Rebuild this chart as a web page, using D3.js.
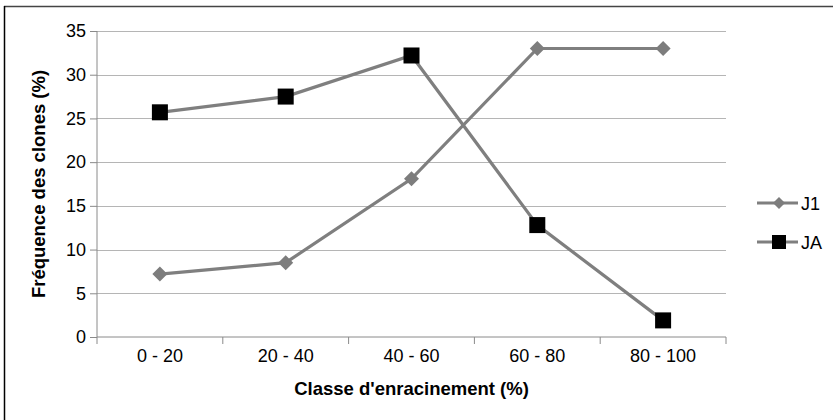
<!DOCTYPE html>
<html>
<head>
    <meta charset="utf-8">
    <title>Fréquence des clones</title>
    <script src="https://d3js.org/d3.v7.min.js"></script>
    <style>
        body { margin: 0; background: #fff; }
        svg { display: block; font-family: "Liberation Sans", Arial, sans-serif; }
        .tick text { font-size: 18px; fill: #000; }
        .axis-title { font-size: 18.5px; font-weight: bold; fill: #000; }
    </style>
</head>
<body>
    <svg width="833" height="420" id="chart"></svg>
    <script>
        // Data
        const categories = ["0 - 20", "20 - 40", "40 - 60", "60 - 80", "80 - 100"];
        const j1Values = [7.2, 8.5, 18.1, 33.0, 33.0];
        const jaValues = [25.7, 27.5, 32.2, 12.8, 1.9];
        const yTicks = [0, 5, 10, 15, 20, 25, 30, 35];

        const series = [
            { name: "J1", values: j1Values, marker: "diamond" },
            { name: "JA", values: jaValues, marker: "square" }
        ];

        const svg = d3.select("#chart");
        const margin = { left: 97, right: 726, top: 31, bottom: 337 };

        // frame lines (top and left only, as in the picture)
        svg.append("line").attr("x1", 4).attr("x2", 833).attr("y1", 6.5).attr("y2", 6.5)
            .attr("stroke", "#444").attr("stroke-width", 1.5);
        svg.append("line").attr("x1", 4.5).attr("x2", 4.5).attr("y1", 6).attr("y2", 420)
            .attr("stroke", "#000").attr("stroke-width", 1.5);

        const x = d3.scaleBand().domain(categories).range([margin.left, margin.right]);
        const y = d3.scaleLinear().domain([0, 35]).range([margin.bottom, margin.top]);

        // gridlines
        svg.append("g").selectAll("line")
            .data(yTicks.filter(d => d > 0))
            .enter().append("line")
            .attr("x1", margin.left).attr("x2", margin.right)
            .attr("y1", d => Math.round(y(d)) + 0.5).attr("y2", d => Math.round(y(d)) + 0.5)
            .attr("stroke", "#b5b5b5").attr("stroke-width", 1.2);

        // y axis
        const yAxis = svg.append("g")
            .attr("transform", `translate(${margin.left},0)`)
            .call(d3.axisLeft(y).tickValues(yTicks).tickSize(7).tickPadding(4));
        yAxis.selectAll("path, line").attr("stroke", "#8a8a8a");
        yAxis.select(".domain").attr("d", `M0,${margin.bottom}V${margin.top}`);

        // x axis with ticks on band edges
        const xAxis = svg.append("g")
            .attr("transform", `translate(0,${margin.bottom})`)
            .call(d3.axisBottom(x).tickSize(0).tickPadding(12));
        xAxis.select(".domain").attr("stroke", "#8a8a8a").attr("d", `M${margin.left},0H${margin.right}`);
        const edges = categories.map(c => x(c)).concat([x.range()[1]]);
        xAxis.selectAll(".edge").data(edges).enter().append("line")
            .attr("x1", d => d).attr("x2", d => d).attr("y1", 0).attr("y2", 7)
            .attr("stroke", "#8a8a8a");
        svg.selectAll(".tick text").attr("font-family", null).attr("font-size", null);

        const cx = c => x(c) + x.bandwidth() / 2;
        const line = d3.line().x((d, i) => cx(categories[i])).y(d => y(d));

        function drawMarker(g, type, size) {
            if (type === "square") {
                g.append("rect").attr("x", -size / 2).attr("y", -size / 2)
                    .attr("width", size).attr("height", size).attr("fill", "#000");
            } else {
                const h = size / 2;
                g.append("path").attr("d", `M0,${-h}L${h},0L0,${h}L${-h},0Z`).attr("fill", "#7d7d7d");
            }
        }

        series.forEach(s => {
            svg.append("path").datum(s.values)
                .attr("d", line).attr("fill", "none")
                .attr("stroke", "#7f7f7f").attr("stroke-width", 3.2);
        });
        series.forEach(s => {
            const size = s.marker === "square" ? 16 : 15;
            svg.append("g").selectAll("g").data(s.values).enter().append("g")
                .attr("transform", (d, i) => `translate(${cx(categories[i])},${y(d)})`)
                .each(function () { drawMarker(d3.select(this), s.marker, size); });
        });

        // legend
        const legend = svg.append("g").selectAll("g").data(series).enter().append("g")
            .attr("transform", (d, i) => `translate(757,${203 + i * 39})`);
        legend.append("line").attr("x1", 0).attr("x2", 41).attr("y1", 0).attr("y2", 0)
            .attr("stroke", "#7f7f7f").attr("stroke-width", 3.2);
        legend.append("g").attr("transform", "translate(22,0)")
            .each(function (d) { drawMarker(d3.select(this), d.marker, d.marker === "square" ? 14 : 12); });
        legend.append("text").attr("x", 44).attr("y", 6.5).attr("font-size", 18).attr("fill", "#000")
            .text(d => d.name);

        // axis titles
        svg.append("text").attr("class", "axis-title")
            .attr("x", (margin.left + margin.right) / 2).attr("y", 395)
            .attr("text-anchor", "middle").text("Classe d'enracinement (%)");
        svg.append("text").attr("class", "axis-title")
            .attr("transform", `translate(45,${(margin.top + margin.bottom) / 2}) rotate(-90)`)
            .attr("text-anchor", "middle").text("Fréquence des clones (%)");
    </script>
</body>
</html>
